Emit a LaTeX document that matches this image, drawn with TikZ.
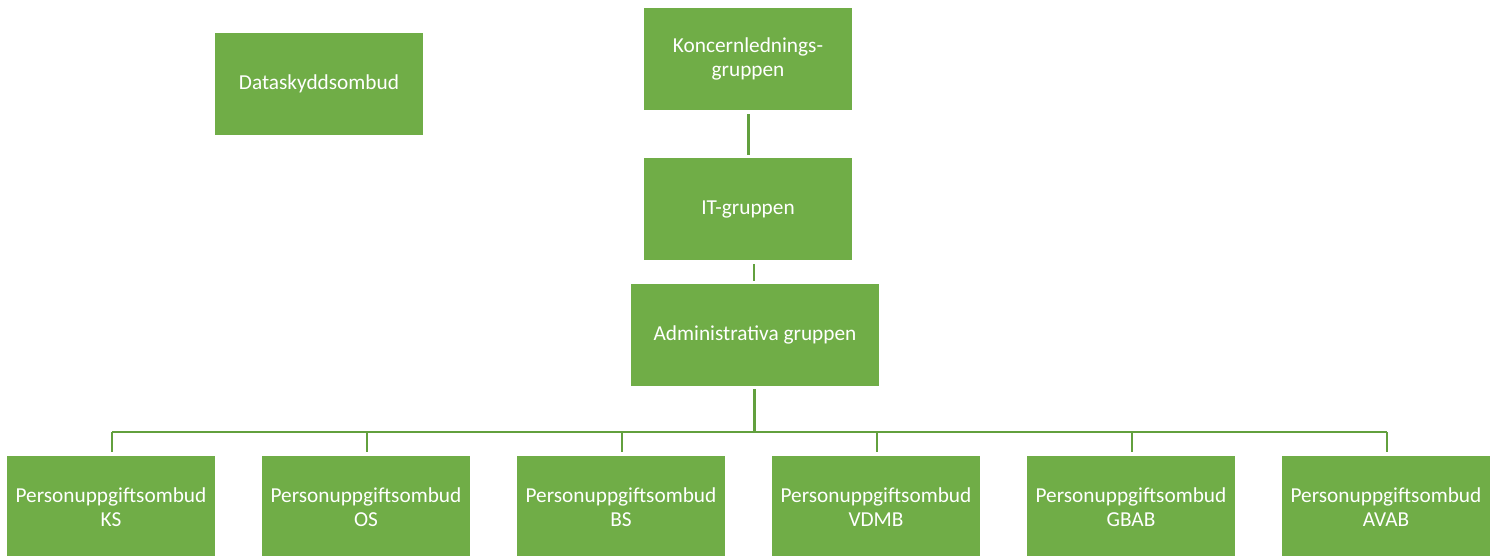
\documentclass[tikz,border=0pt]{standalone}
\usepackage{fontspec}
\setmainfont{Carlito}
\definecolor{boxgreen}{HTML}{70AD47}
\definecolor{linegreen}{HTML}{62A03E}
\begin{document}
\begin{tikzpicture}[x=1pt,y=-1pt,
  box/.style={fill=boxgreen, text=white, minimum width=208pt, minimum height=102pt,
    inner sep=0pt, align=center, font=\fontsize{21.3}{24}\selectfont},
  wide/.style={box, minimum width=248pt},
  conn/.style={draw=linegreen, line width=2.2pt}]
\clip (0,0) rectangle (1495,556);
\fill[white] (0,0) rectangle (1495,556);
\node[box] (dso) at (319,84) {Dataskyddsombud};
\node[box] (kl) at (748,59) {Koncernlednings-\\gruppen};
\node[box] (it) at (748,209) {IT-gruppen};
\node[wide] (adm) at (755,335) {Administrativa gruppen};
\node[box] (ks) at (111,507) {Personuppgiftsombud\\KS};
\node[box] (os) at (366,507) {Personuppgiftsombud\\OS};
\node[box] (bs) at (621,507) {Personuppgiftsombud\\BS};
\node[box] (vdmb) at (876,507) {Personuppgiftsombud\\VDMB};
\node[box] (gbab) at (1131,507) {Personuppgiftsombud\\GBAB};
\node[box] (avab) at (1386,507) {Personuppgiftsombud\\AVAB};
\coordinate (bar) at (754,432);
\draw[conn, line width=3pt, shorten <=4pt, shorten >=3pt] (kl.south) -- (it.north);
\draw[conn, shorten <=4pt, shorten >=3pt] ([xshift=6pt]it.south) -- ([xshift=-1pt]adm.north);
\draw[conn, line width=3pt, shorten <=3pt] ([xshift=-1pt]adm.south) -- (bar);
\draw[conn] ([xshift=1pt]bar -| ks) -- ([xshift=1pt]bar -| avab);
\foreach \c in {ks,os,bs,vdmb,gbab,avab}{
  \draw[conn, shorten >=4pt] ([xshift=1pt]bar -| \c) -- ([xshift=1pt]\c.north);
}
\end{tikzpicture}
\end{document}
